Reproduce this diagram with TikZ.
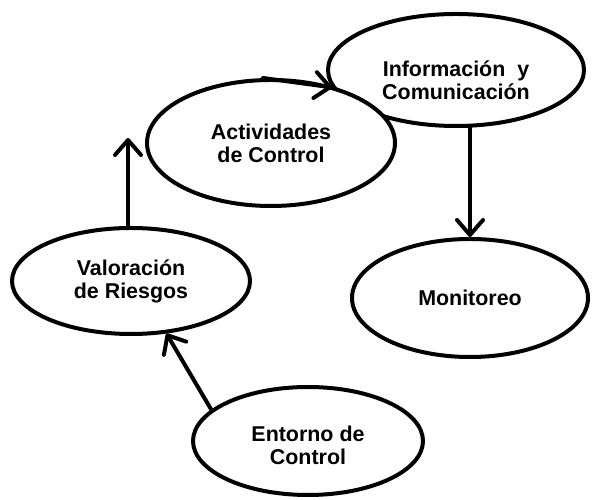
\documentclass[tikz,border=0pt]{standalone}
\usepackage{fontspec}
\setmainfont{Liberation Sans}
\usetikzlibrary{arrows.meta,shapes.geometric}
\tikzset{
  phase/.style={ellipse,draw=black,line width=4bp,fill=white,inner sep=0pt,
                align=center,font=\fontsize{21.5}{23}\selectfont\bfseries},
  flow/.style={-{Straight Barb[length=15bp,width=26bp,line join=round,line cap=round]},
               line width=4bp,line cap=round},
}
\begin{document}
\begin{tikzpicture}[x=1bp,y=1bp]
  \path[use as bounding box] (0,0) rectangle (602,500);

  \node[phase,minimum width=256bp,minimum height=112bp,text height=60bp] (info) at (456,430)
    {Informaci\'on\ \ y\\Comunicaci\'on};
  \node[phase,minimum width=248bp,minimum height=126bp] (activ) at (271,357)
    {Actividades\\de Control};
  \node[phase,minimum width=238bp,minimum height=106bp] (valor) at (131,219)
    {Valoraci\'on\\de Riesgos};
  \node[phase,minimum width=236bp,minimum height=118bp] (monit) at (470,202)
    {Monitoreo};
  \node[phase,minimum width=230bp,minimum height=108bp,text height=48bp] (entorno) at (308,59)
    {Entorno de\\Control};

  \coordinate (valortop) at ([xshift=-3bp]valor.north);
  \coordinate (activleft) at ([yshift=88bp]valortop);
  \draw[flow] (entorno.162) -- (valor.-56);
  \draw[flow] (valortop) -- (activleft);
  \draw[flow] ([xshift=-8bp]activ.north) -- (info.188);
  \draw[flow] (monit.north |- info.south) -- (monit.north);
\end{tikzpicture}
\end{document}
